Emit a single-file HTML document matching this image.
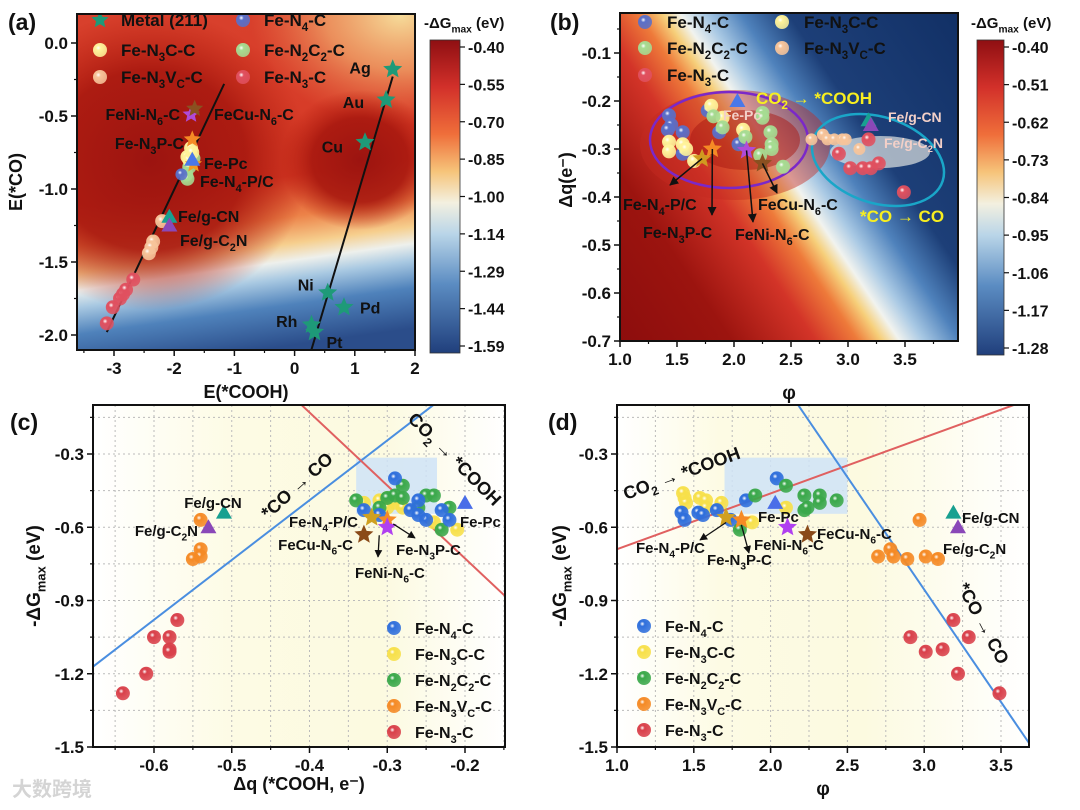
<!DOCTYPE html>
<html><head><meta charset="utf-8"><style>
html,body{margin:0;padding:0;background:#fff;}
svg{display:block;font-family:"Liberation Sans","Noto Sans CJK SC",sans-serif;font-weight:bold;}
</style></head><body>
<svg id="fig" width="1080" height="810" viewBox="0 0 1080 810" xmlns="http://www.w3.org/2000/svg">
<defs>
<linearGradient id="hmA" x1="0" y1="0" x2="0" y2="1" gradientTransform="rotate(-8 .5 .5)">
<stop offset="0" stop-color="#d8402c"/><stop offset=".5" stop-color="#d63a26"/><stop offset=".62" stop-color="#ec8248"/>
<stop offset=".7" stop-color="#f6cf8e"/><stop offset=".75" stop-color="#eef0ec"/><stop offset=".8" stop-color="#a9c9e2"/>
<stop offset=".88" stop-color="#4f82bb"/><stop offset="1" stop-color="#2b4d8a"/></linearGradient>
<radialGradient id="rDark"><stop offset="0" stop-color="#9c1410"/><stop offset=".6" stop-color="#a8180f" stop-opacity=".9"/><stop offset="1" stop-color="#b82010" stop-opacity="0"/></radialGradient>
<radialGradient id="rYel"><stop offset="0" stop-color="#f6dc9a"/><stop offset=".5" stop-color="#f3b070" stop-opacity=".7"/><stop offset="1" stop-color="#f08050" stop-opacity="0"/></radialGradient>
<linearGradient id="hmB" gradientUnits="userSpaceOnUse" x1="583" y1="316" x2="997" y2="38">
<stop offset="0" stop-color="#8a0c0c"/><stop offset=".22" stop-color="#9c140f"/><stop offset=".36" stop-color="#d33428"/>
<stop offset=".43" stop-color="#ee7a3a"/><stop offset=".47" stop-color="#f6cf7a"/><stop offset=".5" stop-color="#f1f3ef"/>
<stop offset=".54" stop-color="#a9c9e4"/><stop offset=".6" stop-color="#4f82bc"/><stop offset=".68" stop-color="#1d3f78"/><stop offset="1" stop-color="#102e63"/></linearGradient>
<linearGradient id="cbA" x1="0" y1="0" x2="0" y2="1">
<stop offset="0" stop-color="#8f0f12"/><stop offset=".15" stop-color="#d2302a"/><stop offset=".3" stop-color="#ef6e3a"/><stop offset=".42" stop-color="#f6c47a"/>
<stop offset=".52" stop-color="#f3f0e0"/><stop offset=".62" stop-color="#b9d5e8"/><stop offset=".78" stop-color="#5b8cc2"/><stop offset="1" stop-color="#203f7c"/></linearGradient>
<linearGradient id="bandC" x1="0" y1="0" x2="1" y2="0"><stop offset="0" stop-color="#fff"/><stop offset=".35" stop-color="#fdfbe4"/><stop offset=".7" stop-color="#fcfae0"/><stop offset="1" stop-color="#fff"/></linearGradient>
<linearGradient id="bandD" x1="0" y1="0" x2="1" y2="0"><stop offset="0" stop-color="#fff"/><stop offset=".25" stop-color="#fdfbe4"/><stop offset=".6" stop-color="#fcfae0"/><stop offset="1" stop-color="#fff"/></linearGradient>
<clipPath id="clA"><rect x="77" y="14" width="338" height="336"/></clipPath>
<clipPath id="clB"><rect x="620" y="13" width="338" height="328"/></clipPath>
<clipPath id="clC"><rect x="93" y="405" width="412" height="342"/></clipPath>
<clipPath id="clD"><rect x="617" y="405" width="412" height="342"/></clipPath>
<marker id="arr" viewBox="0 0 10 10" refX="9" refY="5" markerWidth="6" markerHeight="6" orient="auto"><path d="M0,0L10,5L0,10z" fill="#111"/></marker>
</defs>
</svg>
<script>
// ---------- DATA ----------
// panel (a): E(*COOH), E(*CO)
const aN3C_x=[-3.12,-3.02,-2.9,-2.85,-2.8,-2.68];
const aN3C_y=[-1.92,-1.81,-1.75,-1.72,-1.69,-1.62];
const aVc_x=[-2.2,-2.35,-2.38,-2.42];
const aVc_y=[-1.22,-1.36,-1.4,-1.44];
const aN3CC_x=[-1.72,-1.78,-1.75,-1.7];
const aN3CC_y=[-0.72,-0.78,-0.8,-0.75];
const aN2C2_x=[-1.8,-1.78,-1.75,-1.68];
const aN2C2_y=[-0.9,-0.93,-0.85,-0.79];
const aN4_x=[-1.88];
const aN4_y=[-0.9];
const metalNames=["Ag","Au","Cu","Ni","Pd","Rh","Pt"];
const metal_x=[1.63,1.52,1.17,0.55,0.82,0.28,0.33];
const metal_y=[-0.18,-0.39,-0.68,-1.71,-1.81,-1.93,-1.98];
const aStar_x=[-1.68,-1.7,-1.72,-1.66];
const aStar_y=[-0.83,-0.66,-0.49,-0.45];
const aTri_x=[-1.7,-2.08,-2.08];
const aTri_y=[-0.8,-1.19,-1.25];
const aLine1_x=[-3.12,-1.17], aLine1_y=[-1.98,-0.28];
const aLine2_x=[0.28,1.63], aLine2_y=[-2.1,-0.23];
const aXTicks=[-3,-2,-1,0,1,2];
const aYTicks=[0,-0.5,-1,-1.5,-2];
const cbA=["-0.40","-0.55","-0.70","-0.85","-1.00","-1.14","-1.29","-1.44","-1.59"];
// panel (b): phi, dq
const bN4_x=[1.43,1.45,1.42,1.55,1.77,1.87,2.04,1.55];
const bN4_y=[-0.23,-0.25,-0.26,-0.265,-0.22,-0.265,-0.29,-0.31];
const bN3CC_x=[1.8,1.9,1.43,1.43,1.55,1.58,1.65,2.08];
const bN3CC_y=[-0.21,-0.235,-0.285,-0.305,-0.29,-0.3,-0.325,-0.26];
const bN2C2_x=[1.82,1.9,2.25,2.25,2.32,2.33,2.33,2.1,2.23,2.43];
const bN2C2_y=[-0.232,-0.255,-0.225,-0.235,-0.265,-0.29,-0.3,-0.275,-0.313,-0.337];
const bVc_x=[2.68,2.78,2.82,2.88,2.95,2.98,3.1];
const bVc_y=[-0.28,-0.27,-0.28,-0.28,-0.28,-0.28,-0.3];
const bN3C_x=[2.92,3.02,3.13,3.2,3.27,3.18,3.49];
const bN3C_y=[-0.31,-0.34,-0.34,-0.34,-0.33,-0.28,-0.39];
const bStar_x=[1.72,1.81,2.11,2.25];
const bStar_y=[-0.32,-0.3,-0.303,-0.33];
const bTri_x=[2.03,3.18,3.2];
const bTri_y=[-0.2,-0.24,-0.25];
const bXTicks=[1.0,1.5,2.0,2.5,3.0,3.5];
const bYTicks=[-0.1,-0.2,-0.3,-0.4,-0.5,-0.6,-0.7];
const cbB=["-0.40","-0.51","-0.62","-0.73","-0.84","-0.95","-1.06","-1.17","-1.28"];
// panel (c): dq, -dGmax
const cN4_x=[-0.29,-0.33,-0.31,-0.26,-0.27,-0.23,-0.22,-0.25,-0.26];
const cN4_y=[-0.4,-0.53,-0.55,-0.49,-0.53,-0.53,-0.57,-0.57,-0.55];
const cN3CC_x=[-0.33,-0.31,-0.3,-0.29,-0.28,-0.24,-0.21,-0.3];
const cN3CC_y=[-0.5,-0.49,-0.52,-0.5,-0.52,-0.58,-0.61,-0.48];
const cN2C2_x=[-0.34,-0.31,-0.3,-0.29,-0.28,-0.26,-0.25,-0.24,-0.22,-0.23,-0.28];
const cN2C2_y=[-0.49,-0.52,-0.48,-0.47,-0.43,-0.52,-0.47,-0.47,-0.52,-0.61,-0.48];
const cVc_x=[-0.54,-0.54,-0.54,-0.55];
const cVc_y=[-0.57,-0.69,-0.72,-0.73];
const cN3C_x=[-0.64,-0.61,-0.6,-0.58,-0.58,-0.58,-0.57];
const cN3C_y=[-1.28,-1.2,-1.05,-1.05,-1.1,-1.11,-0.98];
const cStar_x=[-0.32,-0.3,-0.3,-0.33];
const cStar_y=[-0.56,-0.57,-0.6,-0.63];
const cTri_x=[-0.2,-0.51,-0.53];
const cTri_y=[-0.5,-0.54,-0.6];
const cBlue_x=[-0.678,-0.241], cBlue_y=[-1.17,-0.1];
const cRed_x=[-0.41,-0.149], cRed_y=[-0.1,-0.88];
const cXTicks=[-0.6,-0.5,-0.4,-0.3,-0.2];
const cYTicks=[-0.3,-0.6,-0.9,-1.2,-1.5];
// panel (d): phi, -dGmax
const dN4_x=[1.42,1.44,1.53,1.56,1.65,1.74,1.84,2.04];
const dN4_y=[-0.54,-0.57,-0.54,-0.55,-0.53,-0.57,-0.49,-0.4];
const dN3CC_x=[1.44,1.45,1.54,1.58,1.58,1.68,1.88,2.1,1.43];
const dN3CC_y=[-0.48,-0.5,-0.48,-0.49,-0.52,-0.5,-0.58,-0.52,-0.46];
const dN2C2_x=[1.8,1.9,2.1,2.22,2.22,2.24,2.32,2.32,2.43];
const dN2C2_y=[-0.61,-0.47,-0.43,-0.47,-0.53,-0.52,-0.47,-0.5,-0.49];
const dVc_x=[2.97,2.78,2.7,2.8,2.89,3.01,3.09];
const dVc_y=[-0.57,-0.69,-0.72,-0.72,-0.73,-0.72,-0.73];
const dN3C_x=[2.91,3.01,3.12,3.19,3.22,3.29,3.49];
const dN3C_y=[-1.05,-1.11,-1.1,-0.98,-1.2,-1.05,-1.28];
const dStar_x=[1.71,1.81,2.11,2.24];
const dStar_y=[-0.56,-0.57,-0.6,-0.63];
const dTri_x=[2.03,3.19,3.22];
const dTri_y=[-0.5,-0.54,-0.6];
const dRed_x=[1.0,3.58], dRed_y=[-0.69,-0.1];
const dBlue_x=[2.18,3.7], dBlue_y=[-0.1,-1.5];
const dXTicks=[1.0,1.5,2.0,2.5,3.0,3.5];
const dYTicks=[-0.3,-0.6,-0.9,-1.2,-1.5];

// ---------- HELPERS ----------
const NS="http://www.w3.org/2000/svg";
const svg=document.getElementById('fig');
const defs=svg.querySelector('defs');
function el(tag,attrs,parent){const e=document.createElementNS(NS,tag);for(const k in attrs)e.setAttribute(k,attrs[k]);(parent||svg).appendChild(e);return e;}
function lin(d0,d1,p0,p1){return v=>p0+(v-d0)*(p1-p0)/(d1-d0);}
function txt(x,y,s,size,opts,parent){
  opts=opts||{};
  const t=el('text',{x:x,y:y,'font-size':size,fill:opts.fill||'#111','text-anchor':opts.anchor||'start'},parent);
  if(opts.rot)t.setAttribute('transform','rotate('+opts.rot+' '+x+' '+y+')');
  const parts=s.split(/(\{[^}]*\})/);let down=false;
  parts.forEach(p=>{if(!p)return;const ts=el('tspan',{},t);
    if(p[0]==='{'){ts.textContent=p.slice(1,-1);ts.setAttribute('font-size',size*0.68);ts.setAttribute('dy',size*0.3);down=true;}
    else{ts.textContent=p;if(down){ts.setAttribute('dy',-size*0.3);down=false;}}});
  return t;
}
const sphereCols={blue:'#2f6fdc',yellow:'#f7e04a',green:'#3aa84a',orange:'#f58a25',red:'#d9404a',
  pblue:'#5a6fc8',pyellow:'#fff39a',pgreen:'#a6dc92',porange:'#f7c49a',pred:'#e0505f'};
for(const k in sphereCols){const g=el('radialGradient',{id:'sp_'+k,cx:'.38',cy:'.35',r:'.7'},defs);
  el('stop',{offset:'0','stop-color':'#fff'},g);el('stop',{offset:'.25','stop-color':sphereCols[k]},g);el('stop',{offset:'1','stop-color':sphereCols[k],'stop-opacity':'.85'},g);}
function spheres(xs,ys,sx,sy,col,name,r,parent){
  for(let i=0;i<xs.length;i++){
    const c=el('circle',{cx:sx(xs[i]),cy:sy(ys[i]),r:r||7,fill:'url(#sp_'+col+')'},parent);
    
    
  }
}
function starPath(cx,cy,R){let d='';for(let i=0;i<10;i++){const rr=i%2?R*0.45:R;const a=-Math.PI/2+i*Math.PI/5;d+=(i?'L':'M')+(cx+rr*Math.cos(a)).toFixed(1)+','+(cy+rr*Math.sin(a)).toFixed(1);}return d+'Z';}
function stars(xs,ys,sx,sy,cols,name,R,parent){
  for(let i=0;i<xs.length;i++){const p=el('path',{d:starPath(sx(xs[i]),sy(ys[i]),R||10),fill:cols[i%cols.length]},parent);
    
    }
}
function tris(xs,ys,sx,sy,cols,name,s,parent){
  s=s||9;
  for(let i=0;i<xs.length;i++){const x=sx(xs[i]),y=sy(ys[i]);
    const p=el('path',{d:`M${x},${y-s}L${x+s},${y+s*0.75}L${x-s},${y+s*0.75}Z`,fill:cols[i]},parent);
    
    }
}
function line(xs,ys,sx,sy,col,w,name,parent){
  const l=el('line',{x1:sx(xs[0]),y1:sy(ys[0]),x2:sx(xs[1]),y2:sy(ys[1]),stroke:col,'stroke-width':w},parent);
  
  
}
function axes(x0,y0,w,h,sx,sy,xt,yt,fmtx,fmty,name,minorX,minorY){
  const g=el('g',{});
  
  
  el('rect',{x:x0,y:y0,width:w,height:h,fill:'none',stroke:'#111','stroke-width':2},g);
  xt.forEach(v=>{const x=sx(v);el('line',{x1:x,y1:y0+h,x2:x,y2:y0+h+6,stroke:'#111','stroke-width':1.5},g);
    const t=txt(x,y0+h+24,fmtx(v),17,{anchor:'middle'},g);});
  yt.forEach(v=>{const y=sy(v);el('line',{x1:x0-6,y1:y,x2:x0,y2:y,stroke:'#111','stroke-width':1.5},g);
    const t=txt(x0-9,y+6,fmty(v),17,{anchor:'end'},g);});
  (minorX||[]).forEach(v=>{const x=sx(v);if(x<x0||x>x0+w)return;el('line',{x1:x,y1:y0+h,x2:x,y2:y0+h+3,stroke:'#111','stroke-width':1.2},g);});
  (minorY||[]).forEach(v=>{const y=sy(v);if(y<y0||y>y0+h)return;el('line',{x1:x0-3,y1:y,x2:x0,y2:y,stroke:'#111','stroke-width':1.2},g);});
  return g;
}
function colorbar(x,y,w,h,labels,name){
  const g=el('g',{});
  
  
  el('rect',{x:x,y:y,width:w,height:h,fill:'url(#cbA)',stroke:'#333','stroke-width':0.8},g);
  labels.forEach((s,i)=>{const yy=y+7+i*(h-14)/(labels.length-1);
    el('line',{x1:x+w,y1:yy,x2:x+w+5,y2:yy,stroke:'#111','stroke-width':1.2},g);
    txt(x+w+8,yy+6,s,16,{},g);});
  txt(x-6,y-12,'-ΔG{max} (eV)',15,{},g);
}
function panelLabel(x,y,s,name){const t=txt(x,y,s,23,{});}

// ---------- PANEL A ----------
const ax=lin(-3,2,114,415), ay=lin(0,-2,43,335);
const ga=el('g',{'clip-path':'url(#clA)'});


el('rect',{x:77,y:14,width:338,height:336,fill:'url(#hmA)'},ga);
el('ellipse',{cx:400,cy:15,rx:150,ry:110,fill:'url(#rYel)'},ga);
el('ellipse',{cx:150,cy:160,rx:160,ry:150,fill:'url(#rDark)'},ga);
el('ellipse',{cx:360,cy:160,rx:80,ry:70,fill:'url(#rDark)'},ga);
line(aLine1_x,aLine1_y,ax,ay,'#111',2,'fit-line-a1',ga);
line(aLine2_x,aLine2_y,ax,ay,'#111',2,'fit-line-a2',ga);
spheres(aN3C_x,aN3C_y,ax,ay,'pred','fe-n3-c',7,ga);
spheres(aVc_x,aVc_y,ax,ay,'porange','fe-n3vc-c',7,ga);
spheres(aN2C2_x,aN2C2_y,ax,ay,'pgreen','fe-n2c2-c',7,ga);
spheres(aN3CC_x,aN3CC_y,ax,ay,'pyellow','fe-n3c-c',7,ga);
spheres(aN4_x,aN4_y,ax,ay,'pblue','fe-n4-c',6,ga);
stars(metal_x,metal_y,ax,ay,['#1e9a78'],'metal',10,ga);
stars(aStar_x,aStar_y,ax,ay,['#f59a20','#f58a25','#b04ad8','#8a5020'],'fe-dopant',9,ga);
tris(aTri_x,aTri_y,ax,ay,['#4a78e8','#18a090','#8a48b8'],'fe-special',8,ga);
const mlab=[[-22,4,'end'],[-22,8,'end'],[-22,10,'end'],[-14,-2,'end'],[16,6,'start'],[-14,2,'end'],[12,16,'start']];
metalNames.forEach((n,i)=>{const t=txt(ax(metal_x[i])+mlab[i][0],ay(metal_y[i])+mlab[i][1],n,16,{anchor:mlab[i][2]},ga);});
txt(180,120,'FeNi-N{6}-C',16,{anchor:'end'},ga);
txt(214,120,'FeCu-N{6}-C',16,{},ga);
txt(184,149,'Fe-N{3}P-C',16,{anchor:'end'},ga);
txt(204,169,'Fe-Pc',16,{},ga);
txt(200,187,'Fe-N{4}-P/C',16,{},ga);
txt(178,222,'Fe/g-CN',16,{},ga);
txt(180,246,'Fe/g-C{2}N',16,{},ga);
const legA=[['star','#1e9a78','Metal (211)',100,25],['pyellow',0,'Fe-N{3}C-C',100,55],['porange',0,'Fe-N{3}V{C}-C',100,82],
 ['pblue',0,'Fe-N{4}-C',243,25],['pgreen',0,'Fe-N{2}C{2}-C',243,55],['pred',0,'Fe-N{3}-C',243,82]];
legA.forEach(L=>{const g=el('g',{},ga);
 if(L[0]==='star')el('path',{d:starPath(L[3],L[4]-5,9),fill:L[1]},g);else el('circle',{cx:L[3],cy:L[4]-5,r:7,fill:'url(#sp_'+L[0]+')'},g);
 txt(L[3]+21,L[4]+1,L[2],17,{},g);});
axes(77,14,338,336,ax,ay,aXTicks,aYTicks,v=>String(v),v=>v.toFixed(1),'panel-a',[-3.5,-2.5,-1.5,-0.5,0.5,1.5],[-0.25,-0.75,-1.25,-1.75]);
txt(246,398,'E(*COOH)',18,{anchor:'middle'});
txt(22,182,'E(*CO)',18,{anchor:'middle',rot:-90});
colorbar(430,40,30,313,cbA,'colorbar-a');
panelLabel(8,30,'(a)','panel-a-label');

// ---------- PANEL B ----------
const bx=lin(1.0,3.5,620,905), by=lin(-0.1,-0.7,53,341);
const gb=el('g',{'clip-path':'url(#clB)'});


el('rect',{x:560,y:13,width:420,height:328,fill:'url(#hmB)'},gb);
el('ellipse',{cx:735,cy:145,rx:95,ry:55,fill:'#c42a22',opacity:.45},gb);
el('ellipse',{cx:745,cy:140,rx:55,ry:30,fill:'#a81812',opacity:.5},gb);
el('ellipse',{cx:880,cy:152,rx:50,ry:16,fill:'#eef0ea',opacity:.65},gb);
const e1=el('ellipse',{cx:729,cy:140,rx:79,ry:48,fill:'none',stroke:'#7b28c8','stroke-width':2.5},gb);


const e2=el('ellipse',{cx:878,cy:160,rx:68,ry:43,fill:'none',stroke:'#1aa6c8','stroke-width':2.5,transform:'rotate(18 878 160)'},gb);


spheres(bN4_x,bN4_y,bx,by,'pblue','fe-n4-c',7,gb);
spheres(bN3CC_x,bN3CC_y,bx,by,'pyellow','fe-n3c-c',7,gb);
spheres(bN2C2_x,bN2C2_y,bx,by,'pgreen','fe-n2c2-c',7,gb);
spheres(bVc_x,bVc_y,bx,by,'porange','fe-n3vc-c',6,gb);
spheres(bN3C_x,bN3C_y,bx,by,'pred','fe-n3-c',7,gb);
stars(bStar_x,bStar_y,bx,by,['#d09a20','#f58a25','#b04ad8','#8a5020'],'fe-dopant',10,gb);
tris(bTri_x,bTri_y,bx,by,['#4a78e8','#18a090','#8a48b8'],'fe-special',8,gb);
[[bStar_x[0],bStar_y[0],670,185],[bStar_x[1],bStar_y[1],712,215],[bStar_x[2],bStar_y[2],753,222],[bStar_x[3],bStar_y[3],777,193]].forEach(a=>{
 const l=el('line',{x1:bx(a[0]),y1:by(a[1]),x2:a[2],y2:a[3],stroke:'#111','stroke-width':1.5,'marker-end':'url(#arr)'},gb);
 });
txt(623,210,'Fe-N{4}-P/C',16,{},gb);
txt(643,238,'Fe-N{3}P-C',16,{},gb);
txt(735,240,'FeNi-N{6}-C',16,{},gb);
txt(758,210,'FeCu-N{6}-C',16,{},gb);
txt(723,120,'Fe-Pc',14,{fill:'#f3d0c8'},gb);
txt(888,122,'Fe/g-CN',14,{fill:'#f3d0c8'},gb);
txt(884,148,'Fe/g-C{2}N',14,{fill:'#f3d0c8'},gb);
txt(756,104,'CO{2} → *COOH',17,{fill:'#f7ee20'},gb);
txt(860,222,'*CO → CO',17,{fill:'#f7ee20'},gb);
const legB=[['pblue','Fe-N{4}-C',645,27],['pgreen','Fe-N{2}C{2}-C',645,53],['pred','Fe-N{3}-C',645,80],['pyellow','Fe-N{3}C-C',782,27],['porange','Fe-N{3}V{C}-C',782,53]];
legB.forEach(L=>{const g=el('g',{},gb);
 el('circle',{cx:L[2],cy:L[3]-5,r:7,fill:'url(#sp_'+L[0]+')'},g);txt(L[2]+22,L[3]+1,L[1],17,{},g);});
axes(620,13,338,328,bx,by,bXTicks,bYTicks,v=>v.toFixed(1),v=>v.toFixed(1),'panel-b',[1.25,1.75,2.25,2.75,3.25,3.75],[-0.05,-0.15,-0.25,-0.35,-0.45,-0.55,-0.65]);
txt(789,399,'φ',19,{anchor:'middle'});
txt(572,180,'Δq(e⁻)',18,{anchor:'middle',rot:-90});
colorbar(977,40,27,315,cbB,'colorbar-b');
panelLabel(550,30,'(b)','panel-b-label');

// ---------- PANEL C ----------
const cx=lin(-0.6,-0.2,154,465), cy=lin(-0.3,-1.5,454,747);
const gc=el('g',{'clip-path':'url(#clC)'});


el('rect',{x:93,y:405,width:412,height:342,fill:'url(#bandC)'},gc);
for(let v=-0.65;v<-0.15;v+=0.05)el('line',{x1:cx(v),y1:405,x2:cx(v),y2:747,stroke:'#bbb','stroke-dasharray':'2,3'},gc);
for(let v=-0.15;v>-1.5;v-=0.15)el('line',{x1:93,y1:cy(v),x2:505,y2:cy(v),stroke:'#bbb','stroke-dasharray':'2,3'},gc);
el('rect',{x:cx(-0.34),y:cy(-0.315),width:cx(-0.236)-cx(-0.34),height:cy(-0.545)-cy(-0.315),fill:'#cfe3f7',opacity:.85},gc);
line(cBlue_x,cBlue_y,cx,cy,'#4a8ee0',2,'co-desorption-line',gc);
line(cRed_x,cRed_y,cx,cy,'#e06060',2,'cooh-formation-line',gc);
spheres(cN3CC_x,cN3CC_y,cx,cy,'yellow','fe-n3c-c',7,gc);
spheres(cN2C2_x,cN2C2_y,cx,cy,'green','fe-n2c2-c',7,gc);
spheres(cN4_x,cN4_y,cx,cy,'blue','fe-n4-c',7,gc);
spheres(cVc_x,cVc_y,cx,cy,'orange','fe-n3vc-c',7,gc);
spheres(cN3C_x,cN3C_y,cx,cy,'red','fe-n3-c',7,gc);
stars(cStar_x,cStar_y,cx,cy,['#d0a020','#f58a25','#b040f0','#8a4a18'],'fe-dopant',10,gc);
tris(cTri_x,cTri_y,cx,cy,['#4a6ee8','#18a090','#8a48b8'],'fe-special',8,gc);
el('line',{x1:cx(-0.3)+6,y1:cy(-0.57)+4,x2:415,y2:538,stroke:'#111','stroke-width':1.3,'marker-end':'url(#arr)'},gc);
el('line',{x1:cx(-0.3)-8,y1:cy(-0.6)+8,x2:378,y2:557,stroke:'#111','stroke-width':1.3,'marker-end':'url(#arr)'},gc);
const tc=el('g',{});


txt(213,508,'Fe/g-CN',15,{anchor:'middle'},tc);
txt(198,536,'Fe/g-C{2}N',15,{anchor:'end'},tc);
txt(358,527,'Fe-N{4}-P/C',15,{anchor:'end'},tc);
txt(353,550,'FeCu-N{6}-C',15,{anchor:'end'},tc);
txt(396,555,'Fe-N{3}P-C',15,{},tc);
txt(355,578,'FeNi-N{6}-C',15,{},tc);
txt(460,527,'Fe-Pc',15,{},tc);
txt(268,520,'*CO → CO',18,{rot:-42},tc);
txt(407,420,'CO{2} → *COOH',18,{rot:45},tc);
const legC=[['blue','Fe-N{4}-C'],['yellow','Fe-N{3}C-C'],['green','Fe-N{2}C{2}-C'],['orange','Fe-N{3}V{C}-C'],['red','Fe-N{3}-C']];
legC.forEach((L,i)=>{const g=el('g',{},tc);
 const yy=628+i*26;el('circle',{cx:394,cy:yy,r:7,fill:'url(#sp_'+L[0]+')'},g);txt(415,yy+6,L[1],16,{},g);});
axes(93,405,412,342,cx,cy,cXTicks,cYTicks,v=>v.toFixed(1),v=>v.toFixed(1),'panel-c',[-0.65,-0.55,-0.45,-0.35,-0.25,-0.15],[-0.15,-0.45,-0.75,-1.05,-1.35]);
txt(299,790,'Δq (*COOH, e⁻)',18,{anchor:'middle'});
txt(40,576,'-ΔG{max} (eV)',19,{anchor:'middle',rot:-90});
panelLabel(10,430,'(c)','panel-c-label');
const wm=txt(12,796,'大数跨境',20,{fill:'#d4d4d4'});

// ---------- PANEL D ----------
const dx=lin(1.0,3.5,617,1001), dy=lin(-0.3,-1.5,454,747);
const gd=el('g',{'clip-path':'url(#clD)'});


el('rect',{x:617,y:405,width:412,height:342,fill:'url(#bandD)'},gd);
for(let v=1.25;v<3.7;v+=0.25)el('line',{x1:dx(v),y1:405,x2:dx(v),y2:747,stroke:'#bbb','stroke-dasharray':'2,3'},gd);
for(let v=-0.15;v>-1.5;v-=0.15)el('line',{x1:617,y1:dy(v),x2:1029,y2:dy(v),stroke:'#bbb','stroke-dasharray':'2,3'},gd);
el('rect',{x:dx(1.7),y:dy(-0.315),width:dx(2.5)-dx(1.7),height:dy(-0.545)-dy(-0.315),fill:'#cfe3f7',opacity:.85},gd);
line(dRed_x,dRed_y,dx,dy,'#e06060',2,'cooh-formation-line',gd);
line(dBlue_x,dBlue_y,dx,dy,'#4a8ee0',2,'co-desorption-line',gd);
spheres(dN3CC_x,dN3CC_y,dx,dy,'yellow','fe-n3c-c',7,gd);
spheres(dN4_x,dN4_y,dx,dy,'blue','fe-n4-c',7,gd);
spheres(dN2C2_x,dN2C2_y,dx,dy,'green','fe-n2c2-c',7,gd);
spheres(dVc_x,dVc_y,dx,dy,'orange','fe-n3vc-c',7,gd);
spheres(dN3C_x,dN3C_y,dx,dy,'red','fe-n3-c',7,gd);
stars(dStar_x,dStar_y,dx,dy,['#d0a020','#f58a25','#b040f0','#8a4a18'],'fe-dopant',10,gd);
tris(dTri_x,dTri_y,dx,dy,['#4a6ee8','#18a090','#8a48b8'],'fe-special',8,gd);
el('line',{x1:dx(1.71),y1:dy(-0.56)+5,x2:700,y2:540,stroke:'#111','stroke-width':1.3,'marker-end':'url(#arr)'},gd);
el('line',{x1:dx(1.81),y1:dy(-0.57)+5,x2:749,y2:553,stroke:'#111','stroke-width':1.3,'marker-end':'url(#arr)'},gd);
const td=el('g',{});


txt(636,553,'Fe-N{4}-P/C',15,{},td);
txt(707,565,'Fe-N{3}P-C',15,{},td);
txt(754,550,'FeNi-N{6}-C',15,{},td);
txt(817,539,'FeCu-N{6}-C',15,{},td);
txt(758,522,'Fe-Pc',15,{},td);
txt(962,523,'Fe/g-CN',15,{},td);
txt(943,554,'Fe/g-C{2}N',15,{},td);
txt(626,500,'CO{2} → *COOH',18,{rot:-20},td);
txt(957,587,'*CO → CO',18,{rot:62},td);
const legD=[['blue','Fe-N{4}-C'],['yellow','Fe-N{3}C-C'],['green','Fe-N{2}C{2}-C'],['orange','Fe-N{3}V{C}-C'],['red','Fe-N{3}-C']];
legD.forEach((L,i)=>{const g=el('g',{},td);
 const yy=626+i*26;el('circle',{cx:644,cy:yy,r:7,fill:'url(#sp_'+L[0]+')'},g);txt(665,yy+6,L[1],16,{},g);});
axes(617,405,412,342,dx,dy,dXTicks,dYTicks,v=>v.toFixed(1),v=>v.toFixed(1),'panel-d',[1.25,1.75,2.25,2.75,3.25],[-0.15,-0.45,-0.75,-1.05,-1.35]);
txt(823,795,'φ',19,{anchor:'middle'});
txt(566,576,'-ΔG{max} (eV)',19,{anchor:'middle',rot:-90});
panelLabel(548,430,'(d)','panel-d-label');
</script>
</body></html>
